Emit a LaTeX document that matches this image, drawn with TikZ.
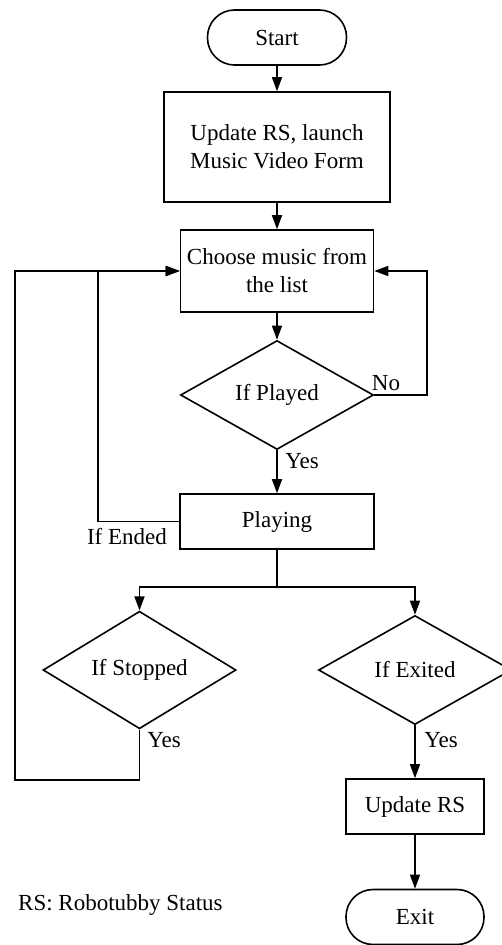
\documentclass[tikz,border=0pt]{standalone}
\usepackage{fontspec}
\setmainfont{Liberation Serif}
\usetikzlibrary{shapes.geometric,arrows.meta}
\begin{document}
\begin{tikzpicture}[x=1pt,y=-1pt,
  every node/.style={font=\fontsize{23}{28}\selectfont, inner sep=0pt},
  box/.style={draw, line width=1.6pt, minimum width=#1},
  term/.style={draw, line width=1.6pt, rounded corners=27pt, minimum width=#1, minimum height=55pt},
  dia/.style={draw, line width=1.6pt, diamond, minimum width=193pt, minimum height=109pt},
  conn/.style={line width=1.6pt},
  arr/.style={conn, -{Triangle[length=14pt,width=10pt]}},
  lbl/.style={font=\fontsize{23}{28}\selectfont}]
\useasboundingbox (0,0) rectangle (501,945);
\fill[white] (0,0) rectangle (501,945);

\node[term=139pt] (start) at (277,37.5) {Start};
\node[box=226pt, minimum height=110pt, align=center] (update) at (277,147) {Update RS, launch\\Music Video Form};
\node[box=193pt, minimum height=82pt, align=center] (choose) at (277,271) {Choose music from\\the list};
\node[dia] (played) at (277,395) {If Played};
\node[box=194pt, minimum height=55pt] (playing) at (277,521.5) {Playing};
\node[dia] (stopped) at (139.5,670) {If Stopped};
\node[dia] (exited) at (415,670) {If Exited};
\node[box=138pt, minimum height=55pt] (updrs) at (415,806.5) {Update RS};
\node[term=138pt] (exit) at (415,917) {Exit};
\node[lbl, anchor=west] (note) at (18,905) {RS: Robotubby Status};

\coordinate (nr) at (427,395);
\coordinate (el) at (98,521.5);
\coordinate (sb) at (139.5,780);
\coordinate (ob) at (15,780);
\coordinate (sp) at (277,587);

\draw[arr] (start.south) -- (update.north);
\draw[arr] (update.south) -- (choose.north);
\draw[arr] (choose.south) -- (played.north);
\draw[arr] (played.east) -- (nr) |- (choose.east);
\draw[arr] (played.south) -- (playing.north);
\draw[arr] (playing.west) -- (el) |- (choose.west);
\draw[arr] (stopped.south) -- (sb) -- (ob) |- (choose.west);
\draw[conn] (playing.south) -- (sp);
\draw[arr] (sp) -| (stopped.north);
\draw[arr] (sp) -| (exited.north);
\draw[arr] (exited.south) -- (updrs.north);
\draw[arr] (updrs.south) -- (exit.north);

\node[lbl] (lno) at (386,383) {No};
\node[lbl] (lyes1) at (302,461) {Yes};
\node[lbl] (lend) at (127,537) {If Ended};
\node[lbl] (lyes2) at (164,740) {Yes};
\node[lbl] (lyes3) at (441,740) {Yes};
\end{tikzpicture}
\end{document}
